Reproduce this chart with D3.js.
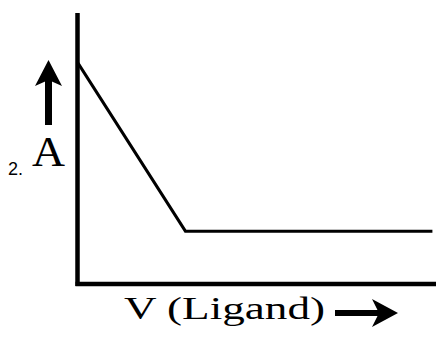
<!DOCTYPE html>
<html>
<head>
<meta charset="utf-8">
<script src="https://cdn.jsdelivr.net/npm/d3@7"></script>
<style>
  html, body { margin: 0; padding: 0; background: #fff; }
  svg { display: block; }
</style>
</head>
<body>
<div id="chart"></div>
<script>
// absorbance vs volume of ligand (arbitrary units)
const volume = [0, 3, 9.9];
const absorbance = [8.15, 1.95, 1.95];
const xDomain = [0, 10];
const yDomain = [0, 10];

const width = 436;
const height = 337;
const margin = { top: 13, right: 0, bottom: 53, left: 78 };

const svg = d3
  .select("#chart")
  .append("svg")
  .attr("width", width)
  .attr("height", height);

const x = d3.scaleLinear().domain(xDomain).range([margin.left, width - margin.right]);
const y = d3.scaleLinear().domain(yDomain).range([height - margin.bottom, margin.top]);

const points = volume.map((v, i) => ({ v: v, a: absorbance[i] }));

// axes without ticks
svg
  .append("g")
  .attr("transform", `translate(0,${y(0)})`)
  .call(d3.axisBottom(x).tickValues([]).tickSizeOuter(0))
  .call((g) => g.select(".domain").attr("stroke", "#000").attr("stroke-width", 4.5)
    .attr("d", `M${x(0) - 2.5},0H${x(10)}`));

svg
  .append("g")
  .attr("transform", `translate(${x(0)},0)`)
  .call(d3.axisLeft(y).tickValues([]).tickSizeOuter(0))
  .call((g) => g.select(".domain").attr("stroke", "#000").attr("stroke-width", 4.5)
    .attr("d", `M-0.5,${y(0) + 2}V${y(10)}`));

const line = d3
  .line()
  .x((d) => x(d.v))
  .y((d) => y(d.a));

svg
  .append("path")
  .datum(points)
  .attr("fill", "none")
  .attr("stroke", "#000")
  .attr("stroke-width", 3)
  .attr("stroke-linejoin", "miter")
  .attr("d", line);

// y label with up arrow
svg
  .append("line")
  .attr("x1", 48.5).attr("x2", 48.5)
  .attr("y1", 125).attr("y2", 78)
  .attr("stroke", "#000")
  .attr("stroke-width", 7);

svg
  .append("path")
  .attr("d", "M48.5,60L62,86L48.5,80L35,86Z")
  .attr("fill", "#000");

svg
  .append("text")
  .attr("x", 32)
  .attr("y", 166)
  .attr("textLength", 33)
  .attr("lengthAdjust", "spacingAndGlyphs")
  .style("font-family", "'Liberation Serif', serif")
  .style("font-size", "43px")
  .text("A");

svg
  .append("text")
  .attr("x", 8)
  .attr("y", 175)
  .style("font-family", "'Liberation Sans', Arial, sans-serif")
  .style("font-size", "18px")
  .text("2.");

// x label with right arrow
svg
  .append("text")
  .attr("x", 124)
  .attr("y", 319)
  .attr("textLength", 201)
  .attr("lengthAdjust", "spacingAndGlyphs")
  .style("font-family", "'Liberation Serif', serif")
  .style("font-size", "31px")
  .text("V (Ligand)");

svg
  .append("line")
  .attr("x1", 335).attr("x2", 382)
  .attr("y1", 313).attr("y2", 313)
  .attr("stroke", "#000")
  .attr("stroke-width", 6);

svg
  .append("path")
  .attr("d", "M398,313L372,327L379,313L372,299Z")
  .attr("fill", "#000");
</script>
</body>
</html>
